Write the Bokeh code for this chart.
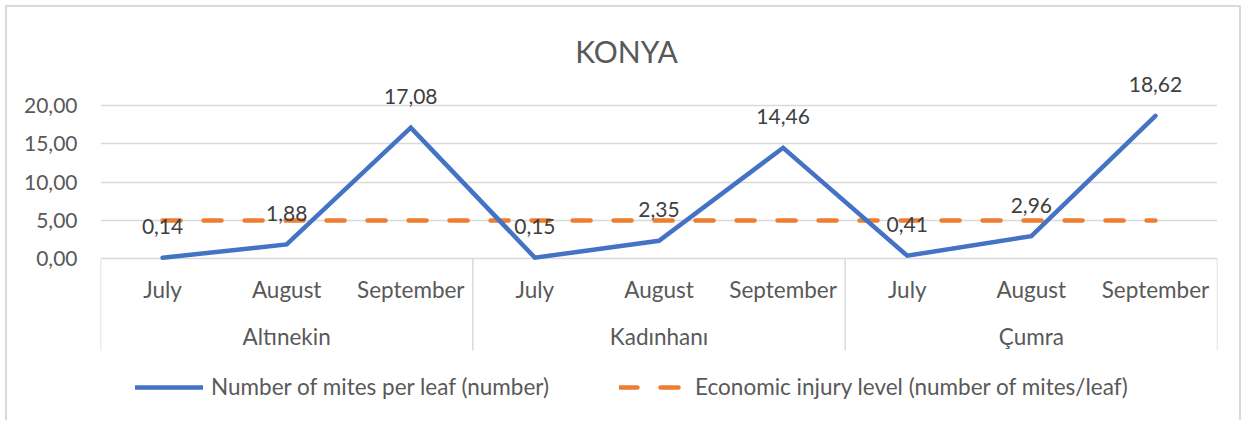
from bokeh.plotting import figure
from bokeh.models import Range1d, FixedTicker, Label
from bokeh.core.properties import value
from bokeh.embed import file_html
from bokeh.resources import INLINE

# ---- data ----
locations = ["Altınekin", "Kadınhanı", "Çumra"]
months = ["July", "August", "September"]
mites_per_leaf = [0.14, 1.88, 17.08, 0.15, 2.35, 14.46, 0.41, 2.96, 18.62]
injury_level = [5, 5, 5, 5, 5, 5, 5, 5, 5]
y_ticks = [0, 5, 10, 15, 20]
y_tick_labels = ["0,00", "5,00", "10,00", "15,00", "20,00"]
title_text = "KONYA"
series_names = ["Number of mites per leaf (number)",
                "Economic injury level (number of mites/leaf)"]

FONT = "Lato"
GREY = "#595959"
NUM_SIZE = "21px"
TXT_SIZE = "22.5px"

n_months = len(months)
xs = list(range(len(locations) * n_months))
month_labels = [m for _ in locations for m in months]
fmt = lambda v: f"{v:.2f}".replace(".", ",")

p = figure(width=1236, height=415, output_backend="svg", toolbar_location=None,
           x_range=Range1d(-0.5, len(xs) - 0.5), y_range=Range1d(-20.0, 31.03),
           min_border_left=93, min_border_right=26, min_border_top=13,
           min_border_bottom=10, title=None)
p.styles = {"border": "2px solid #D9D9D9", "border-bottom": "none",
            "margin-left": "5px", "margin-top": "5px"}
p.outline_line_color = None
p.background_fill_color = "white"
p.border_fill_color = "white"

p.xaxis.visible = False
p.xgrid.visible = False
p.ygrid.ticker = FixedTicker(ticks=y_ticks)
p.ygrid.grid_line_color = "#D9D9D9"
p.ygrid.grid_line_width = 1.5

ya = p.yaxis[0]
ya.ticker = FixedTicker(ticks=y_ticks)
ya.major_label_overrides = {t: l for t, l in zip(y_ticks, y_tick_labels)}
ya.axis_line_color = None
ya.major_tick_line_color = None
ya.minor_tick_line_color = None
ya.major_tick_out = 0
ya.major_tick_in = 0
ya.major_label_standoff = 23
ya.major_label_text_font = FONT
ya.major_label_text_font_size = NUM_SIZE
ya.major_label_text_color = GREY

# group separators of the category axis
bounds = [i * n_months - 0.5 for i in range(len(locations) + 1)]
p.segment(x0=bounds, y0=[0] * len(bounds), x1=bounds, y1=[-11.94] * len(bounds),
          line_color="#D9D9D9", line_width=1.5)

# series
p.line(xs, injury_level, line_color="#ED7D31", line_width=4.5, line_dash="18 23",
       line_cap="round", legend_label=series_names[1])
p.line(xs, mites_per_leaf, line_color="#4472C4", line_width=4.5,
       line_cap="round", line_join="miter", legend_label=series_names[0])

# data labels
p.text(x=xs, y=mites_per_leaf, text=[fmt(v) for v in mites_per_leaf],
       y_offset=-31, text_align="center", text_baseline="middle",
       text_font=value(FONT), text_font_size=NUM_SIZE, text_color="#404040")

# category labels
p.text(x=xs, y=[-4.0] * len(xs), text=month_labels, text_align="center",
       text_baseline="middle", text_font=value(FONT), text_font_size=TXT_SIZE,
       text_color=GREY)
group_centers = [i * n_months + (n_months - 1) / 2 for i in range(len(locations))]
p.text(x=group_centers, y=[-10.1] * len(locations), text=locations,
       text_align="center", text_baseline="middle", text_font=value(FONT),
       text_font_size=TXT_SIZE, text_color=GREY)

# title
p.add_layout(Label(x=3.738, y=27.12, text=title_text, text_align="center",
                   text_baseline="middle", text_font=FONT,
                   text_font_size="30px", text_color=GREY))

# legend
lg = p.legend[0]
lg.items = list(reversed(lg.items))
lg.orientation = "horizontal"
lg.location = (35, 12)
lg.background_fill_alpha = 0
lg.border_line_alpha = 0
lg.padding = 0
lg.margin = 0
lg.spacing = 70
lg.glyph_width = 68
lg.glyph_height = 20
lg.label_height = 20
lg.label_standoff = 8
lg.label_text_font = FONT
lg.label_text_font_size = TXT_SIZE
lg.label_text_color = GREY

open("out.html", "w").write(file_html(p, INLINE))
